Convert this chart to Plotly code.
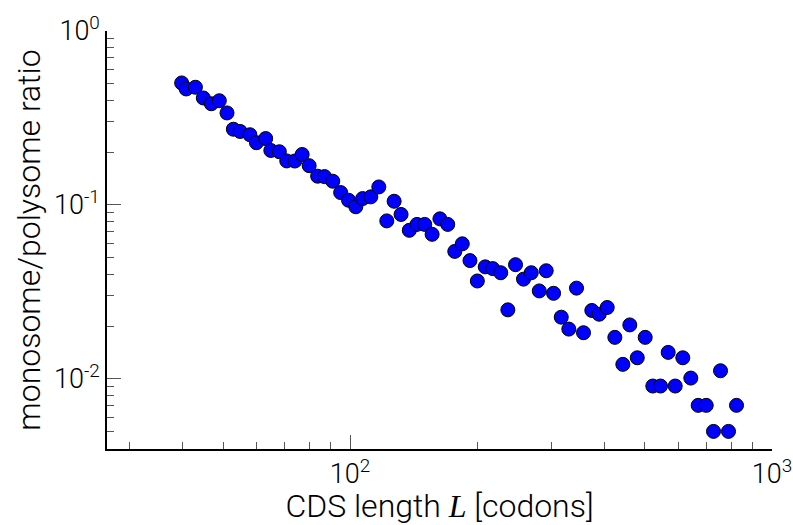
import plotly.graph_objects as go

# CDS length L [codons]
cds_length = [39.9, 40.9, 43.0, 44.9, 46.9, 49.0, 51.1, 52.9, 54.9, 57.9,
              60.0, 63.1, 64.9, 68.0, 70.8, 74.0, 77.0, 80.0, 83.8, 87.0,
              91.0, 95.0, 99.2, 103.2, 107.1, 112.0, 117.0, 122.2, 127.2, 132.1,
              138.2, 144.1, 150.3, 156.5, 163.3, 170.4, 177.1, 184.5, 192.4, 200.3,
              209.1, 217.9, 227.6, 236.6, 246.7, 257.7, 268.8, 280.8, 291.7, 303.6,
              316.6, 330.0, 344.1, 357.5, 374.1, 389.5, 406.9, 424.2, 443.1, 460.3,
              479.4, 500.6, 521.8, 544.2, 567.5, 589.6, 614.6, 642.1, 668.5, 698.4,
              726.7, 755.1, 788.7, 823.9]

# monosome/polysome ratio
ratio = [0.5026, 0.4642, 0.4748, 0.4120, 0.3816, 0.3971, 0.3379, 0.2723, 0.2644, 0.2531,
         0.2278, 0.2407, 0.2056, 0.2021, 0.1790, 0.1788, 0.1949, 0.1680, 0.1462, 0.1454,
         0.1368, 0.1177, 0.1063, 0.0975, 0.1087, 0.1112, 0.1268, 0.0809, 0.1049, 0.0881,
         0.0714, 0.0772, 0.0772, 0.0677, 0.0831, 0.0772, 0.0540, 0.0597, 0.0478, 0.0365,
         0.0440, 0.0430, 0.0407, 0.0249, 0.0453, 0.0374, 0.0407, 0.0320, 0.0418, 0.0310,
         0.0226, 0.0193, 0.0332, 0.0184, 0.0247, 0.0235, 0.0257, 0.0173, 0.0121, 0.0204,
         0.0132, 0.0173, 0.00908, 0.00908, 0.01418, 0.00908, 0.0132, 0.01009, 0.00703, 0.00703,
         0.00498, 0.01112, 0.00498, 0.00703]

x_major = [100, 1000]
x_major_text = ["10<sup>2</sup>", "10<sup>3</sup>"]
x_minor = [30, 40, 50, 60, 70, 80, 90, 200, 300, 400, 500, 600, 700, 800, 900]

y_major = [1, 0.1, 0.01]
y_major_text = ["10<sup>0</sup>", "10<sup>-1</sup>", "10<sup>-2</sup>"]
y_minor = [0.005, 0.006, 0.007, 0.008, 0.009,
           0.02, 0.03, 0.04, 0.05, 0.06, 0.07, 0.08, 0.09,
           0.2, 0.3, 0.4, 0.5, 0.6, 0.7, 0.8, 0.9]

FONT = "Roboto, Liberation Sans, Arial, sans-serif"

fig = go.Figure()
fig.add_trace(go.Scatter(
    x=cds_length, y=ratio, mode="markers",
    marker=dict(size=14, color="#0000ff", line=dict(color="black", width=1)),
))

axis_common = dict(
    type="log", showline=True, linecolor="black", linewidth=1.5,
    ticks="inside", ticklen=14, tickwidth=1, tickcolor="#555",
    showgrid=False, zeroline=False, mirror=False,
    tickfont=dict(family=FONT, size=27, color="black", weight=300),
)

fig.update_xaxes(
    **axis_common,
    range=[1.424, 3.0],
    tickmode="array", tickvals=x_major, ticktext=x_major_text,
    minor=dict(ticks="inside", ticklen=7, tickwidth=1, tickcolor="#555",
               tickmode="array", tickvals=x_minor, showgrid=False),
    title=dict(text='CDS length <span style="font-family:Liberation Serif"><i>L</i></span> [codons]',
               font=dict(family=FONT, size=32, color="black", weight=300), standoff=15),
)
fig.update_yaxes(
    **axis_common,
    range=[-2.404, 0.0],
    tickmode="array", tickvals=y_major, ticktext=y_major_text,
    minor=dict(ticks="inside", ticklen=7, tickwidth=1, tickcolor="#555",
               tickmode="array", tickvals=y_minor, showgrid=False),
    title=dict(text="monosome/polysome ratio",
               font=dict(family=FONT, size=32, color="black", weight=300), standoff=4),
)

fig.update_layout(
    width=793, height=525,
    margin=dict(l=107, r=21, t=31, b=76, autoexpand=False),
    plot_bgcolor="white", paper_bgcolor="white",
    showlegend=False,
)

fig.write_html("out.html")
